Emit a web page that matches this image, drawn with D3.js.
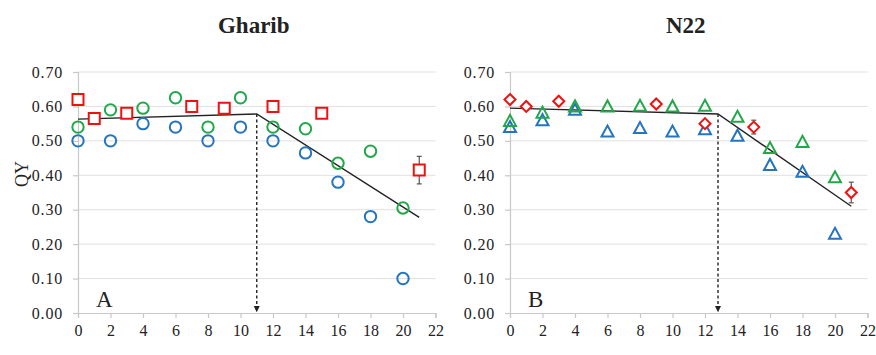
<!DOCTYPE html>
<html><head><meta charset="utf-8">
<script src="https://cdn.jsdelivr.net/npm/d3@7"></script>
<style>
html,body{margin:0;padding:0;background:#fff;}
svg text{font-family:"Liberation Serif","Times New Roman",serif;fill:#222;}
</style></head>
<body><svg id="c" width="876" height="355"></svg>
<script>
// ---------- data ----------
const xTicks = [0,2,4,6,8,10,12,14,16,18,20,22];
const yTicks = [0,0.1,0.2,0.3,0.4,0.5,0.6,0.7];
const panelTitles = ["Gharib","N22"];
const panelLetters = ["A","B"];

const dotX = [0,2,4,6,8,10,12,14,16,18,20];

const gharibBlue  = [0.50,0.50,0.55,0.54,0.50,0.54,0.50,0.465,0.38,0.28,0.10];
const gharibGreen = [0.54,0.59,0.595,0.625,0.54,0.625,0.54,0.535,0.435,0.47,0.305];
const gharibRedX  = [0,1,3,7,9,12,15,21];
const gharibRed   = [0.62,0.565,0.58,0.60,0.595,0.60,0.58,0.415];
const gharibRedErr= [0,0,0,0,0,0,0,0.04];
const gharibFitX  = [0,11,21];
const gharibFitY  = [0.563,0.578,0.278];
const gharibBreak = 11;

const n22Blue  = [0.54,0.56,0.59,0.527,0.537,0.527,0.534,0.515,0.43,0.41,0.23];
const n22Green = [0.558,0.582,0.60,0.60,0.602,0.60,0.602,0.57,0.479,0.497,0.394];
const n22RedX  = [0,1,3,9,12,15,21];
const n22Red   = [0.62,0.60,0.615,0.607,0.55,0.54,0.35];
const n22RedErr= [0,0,0,0,0,0.02,0.03];
const n22FitX  = [0,12.8,21];
const n22FitY  = [0.595,0.578,0.31];
const n22Break = 12.8;

// ---------- drawing ----------
const svg = d3.select("#c");
const BLUE="#2474c0", GREEN="#22a84a", RED="#f01010";
const SERIF='"Liberation Serif","Times New Roman",serif';

const panels = [
  {left:78, right:435.5, title:panelTitles[0], letter:panelLetters[0],
   blue:gharibBlue, green:gharibGreen, redX:gharibRedX, red:gharibRed, redErr:gharibRedErr,
   fitX:gharibFitX, fitY:gharibFitY, brk:gharibBreak, shape:"circle", redShape:"square", ylabel:true},
  {left:510, right:867.5, title:panelTitles[1], letter:panelLetters[1],
   blue:n22Blue, green:n22Green, redX:n22RedX, red:n22Red, redErr:n22RedErr,
   fitX:n22FitX, fitY:n22FitY, brk:n22Break, shape:"triangle", redShape:"diamond", ylabel:false}
];
const plotTop=72, plotBottom=313;

function markerPath(shape){
  if(shape==="triangle") return "M-6,5L6,5L0,-6Z";
  if(shape==="diamond") return "M0,-5.5L5.5,0L0,5.5L-5.5,0Z";
  if(shape==="square") return "M-5.5,-5.5H5.5V5.5H-5.5Z";
  return null;
}

panels.forEach(p=>{
  const x = d3.scaleLinear().domain([0,22]).range([p.left,p.right]);
  const y = d3.scaleLinear().domain([0,0.7]).range([plotBottom,plotTop]);
  const g = svg.append("g");

  // gridlines
  g.selectAll(".grid").data(yTicks.slice(1)).enter().append("line")
    .attr("x1",p.left).attr("x2",p.right)
    .attr("y1",d=>y(d)).attr("y2",d=>y(d))
    .attr("stroke","#e0e0e0").attr("stroke-width",1);

  // axes
  const ax = g.append("g").attr("transform",`translate(0,${plotBottom})`)
    .call(d3.axisBottom(x).tickValues(xTicks).tickSize(5).tickPadding(7).tickFormat(d3.format("d")));
  const ay = g.append("g").attr("transform",`translate(${p.left},0)`)
    .call(d3.axisLeft(y).tickValues(yTicks).tickSize(5).tickPadding(10).tickFormat(d3.format(".2f")));
  [ax,ay].forEach(a=>{
    a.attr("font-family",SERIF).attr("font-size",16);
    a.selectAll("path,line").attr("stroke","#c8c8c8").attr("stroke-width",1.2);
    a.selectAll("text").attr("font-size",16).attr("fill","#222")
      .attr("font-family",SERIF).style("font-family",SERIF);
  });
  ay.selectAll("text").attr("letter-spacing",0.8);

  // fit line
  g.append("path")
    .attr("d", d3.line().x(d=>x(d[0])).y(d=>y(d[1]))(p.fitX.map((v,i)=>[v,p.fitY[i]])))
    .attr("fill","none").attr("stroke","#222").attr("stroke-width",1.4);

  // dashed arrow
  const bx = x(p.brk);
  g.append("line").attr("x1",bx).attr("x2",bx)
    .attr("y1",y(p.fitY[1])).attr("y2",y(0.015))
    .attr("stroke","#222").attr("stroke-width",1.4).attr("stroke-dasharray","3,2.5");
  g.append("path").attr("d",`M${bx-3},${y(0.02)}L${bx+3},${y(0.02)}L${bx},${y(0.002)}Z`).attr("fill","#222");

  // series
  const series = [[p.blue,BLUE],[p.green,GREEN]];
  series.forEach(([vals,col])=>{
    const sel = g.selectAll(null).data(vals.map((v,i)=>[dotX[i],v])).enter();
    if(p.shape==="circle"){
      sel.append("circle").attr("cx",d=>x(d[0])).attr("cy",d=>y(d[1])).attr("r",5.7)
        .attr("fill","none").attr("stroke",col).attr("stroke-width",2);
    } else {
      sel.append("path").attr("d",markerPath(p.shape))
        .attr("transform",d=>`translate(${x(d[0])},${y(d[1])})`)
        .attr("fill","none").attr("stroke",col).attr("stroke-width",2);
    }
  });

  // error bars for red
  const redData = p.red.map((v,i)=>({x:p.redX[i],v,e:p.redErr[i]}));
  redData.filter(d=>d.e>0).forEach(d=>{
    const cx=x(d.x);
    g.append("line").attr("x1",cx).attr("x2",cx).attr("y1",y(d.v+d.e)).attr("y2",y(d.v-d.e))
      .attr("stroke","#555").attr("stroke-width",1.2);
    [d.v+d.e,d.v-d.e].forEach(t=>g.append("line").attr("x1",cx-2.5).attr("x2",cx+2.5)
      .attr("y1",y(t)).attr("y2",y(t)).attr("stroke","#555").attr("stroke-width",1.2));
  });
  g.selectAll(null).data(redData).enter().append("path")
    .attr("d",markerPath(p.redShape))
    .attr("transform",d=>`translate(${x(d.x)},${y(d.v)})`)
    .attr("fill","#fff").attr("stroke",RED).attr("stroke-width",2);

  // title
  g.append("text").attr("x",(p.left+p.right)/2-3).attr("y",33).attr("text-anchor","middle")
    .attr("font-size",23).attr("font-weight","bold").attr("fill","#111").text(p.title);
  // letter
  g.append("text").attr("x",p.left+18).attr("y",307).attr("font-size",23).attr("fill","#111").text(p.letter);
  if(p.ylabel){
    g.append("text").attr("transform","translate(28,174) rotate(-90)").attr("text-anchor","middle")
      .attr("font-size",18).attr("fill","#222").text("QY");
  }
});
</script></body></html>
